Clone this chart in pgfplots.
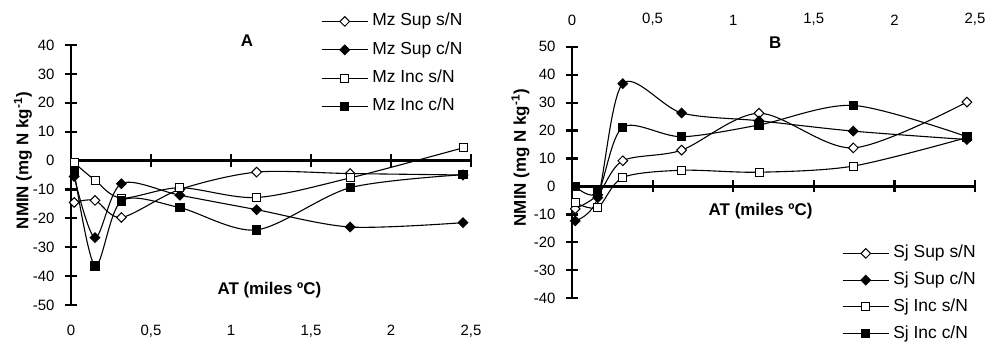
\documentclass[border=0pt]{standalone}
\usepackage{pgfplots}
\pgfplotsset{compat=1.18}
\usepackage{fontspec}
\setmainfont{Liberation Sans}

\pgfplotsset{
  base/.style={
    scale only axis, clip=false,
    xmin=0, xmax=2.5,
    axis line style={draw=none},
    xtick={0,0.5,1,1.5,2,2.5},
    xticklabels={0,{0,5},1,{1,5},2,{2,5}},
    xtick style={draw=none}, ytick style={draw=none},
    tick label style={font=\fontsize{15}{17}\selectfont},
    yticklabel style={xshift=-13bp},
    legend cell align=left,
    legend image code/.code={\draw[mark repeat=2,mark phase=2,##1] plot coordinates {(0bp,0bp) (23bp,0bp) (46bp,0bp)};},
    legend style={draw=none, fill=none, inner sep=0pt, font=\fontsize{17.5}{19}\selectfont,
      nodes={inner sep=1bp, text height=12bp, text depth=3bp},
      /tikz/every odd column/.style={column sep=3bp}},
  },
  ser/.style={black, line width=1.1bp, smooth, tension=0.5},
  odia/.style={ser, mark=square*, mark size=3.4bp, mark options={rotate=45, fill=white, line width=1bp}},
  fdia/.style={ser, mark=square*, mark size=3.4bp, mark options={rotate=45, fill=black, line width=1bp}},
  osq/.style={ser, mark=square*, mark size=4bp, mark options={fill=white, line width=1bp}},
  fsq/.style={ser, mark=square*, mark size=4.2bp, mark options={fill=black, line width=1bp}},
  frameline/.style={black, line width=2.4bp, forget plot},
  tickline/.style={black, line width=2.2bp, forget plot},
}

\begin{document}
\begin{tikzpicture}
\path[use as bounding box] (0,0) rectangle (990bp,345bp);

% ---------------- Panel A ----------------
\begin{axis}[base,
  at={(71bp,40bp)}, anchor=south west, width=400bp, height=260bp,
  ymin=-50, ymax=40,
  ytick={-50,-40,-30,-20,-10,0,10,20,30,40},
  yticklabels={-50,-40,-30,-20,-10,0,10,20,30,40},
  xticklabel style={yshift=-17bp},
  legend style={at={(0.625,1.124)}, anchor=north west, row sep=11.3bp},
]
% axis frame: y axis, zero line and their ticks
\addplot[frameline] coordinates {(0,-50) (0,40)};
\addplot[frameline] coordinates {(0,0) (2.5,0)};
\addplot[tickline] coordinates {(-0.0375,-50) (0.0375,-50)};
\addplot[tickline] coordinates {(-0.0375,-40) (0.0375,-40)};
\addplot[tickline] coordinates {(-0.0375,-30) (0.0375,-30)};
\addplot[tickline] coordinates {(-0.0375,-20) (0.0375,-20)};
\addplot[tickline] coordinates {(-0.0375,-10) (0.0375,-10)};
\addplot[tickline] coordinates {(-0.0375,10) (0.0375,10)};
\addplot[tickline] coordinates {(-0.0375,20) (0.0375,20)};
\addplot[tickline] coordinates {(-0.0375,30) (0.0375,30)};
\addplot[tickline] coordinates {(-0.0375,40) (0.0375,40)};
\addplot[tickline] coordinates {(0.5,-2.1) (0.5,2.1)};
\addplot[tickline] coordinates {(1,-2.1) (1,2.1)};
\addplot[tickline] coordinates {(1.5,-2.1) (1.5,2.1)};
\addplot[tickline] coordinates {(2,-2.1) (2,2.1)};
\addplot[tickline] coordinates {(2.5,-2.1) (2.5,2.1)};
% data
\addplot[odia] coordinates {(0.02,-14.5) (0.15,-13.8) (0.315,-19.7) (0.68,-10) (1.16,-4) (1.745,-4.5) (2.45,-5)};
\addplot[fdia] coordinates {(0.02,-5.5) (0.15,-26.7) (0.315,-8) (0.68,-12) (1.16,-17) (1.745,-23) (2.45,-21.5)};
\addplot[osq] coordinates {(0.02,-0.8) (0.15,-6.8) (0.315,-13) (0.68,-9.4) (1.16,-12.8) (1.745,-6) (2.45,4.4)};
\addplot[fsq] coordinates {(0.02,-4) (0.15,-36.5) (0.315,-14) (0.68,-16.3) (1.16,-24) (1.745,-9.4) (2.45,-4.9)};
\legend{Mz Sup s/N, Mz Sup c/N, Mz Inc s/N, Mz Inc c/N}
\node[font=\bfseries\fontsize{17}{19}\selectfont] at (axis cs:1.1,41.5) {A};
\node[font=\bfseries\fontsize{17}{19}\selectfont] at (axis cs:1.24,-45) {AT (miles ºC)};
\node[rotate=90, font=\bfseries\fontsize{17}{19}\selectfont] at (axis cs:-0.3,0) {NMIN (mg N kg\textsuperscript{-1})};
\end{axis}

% ---------------- Panel B ----------------
\begin{axis}[base,
  at={(572bp,46.7bp)}, anchor=south west, width=403bp, height=251.6bp,
  ymin=-40, ymax=50,
  ytick={-40,-30,-20,-10,0,10,20,30,40,50},
  yticklabels={-40,-30,-20,-10,0,10,20,30,40,50},
  xticklabel pos=upper,
  xticklabel style={yshift=17.5bp},
  legend style={at={(0.67,0.213)}, anchor=north west, row sep=9.7bp},
]
\addplot[frameline] coordinates {(0,-40) (0,50)};
\addplot[frameline] coordinates {(0,0) (2.5,0)};
\addplot[tickline] coordinates {(-0.0372,-40) (0.0372,-40)};
\addplot[tickline] coordinates {(-0.0372,-30) (0.0372,-30)};
\addplot[tickline] coordinates {(-0.0372,-20) (0.0372,-20)};
\addplot[tickline] coordinates {(-0.0372,-10) (0.0372,-10)};
\addplot[tickline] coordinates {(-0.0372,10) (0.0372,10)};
\addplot[tickline] coordinates {(-0.0372,20) (0.0372,20)};
\addplot[tickline] coordinates {(-0.0372,30) (0.0372,30)};
\addplot[tickline] coordinates {(-0.0372,40) (0.0372,40)};
\addplot[tickline] coordinates {(-0.0372,50) (0.0372,50)};
\addplot[tickline] coordinates {(0.5,-2.15) (0.5,2.15)};
\addplot[tickline] coordinates {(1,-2.15) (1,2.15)};
\addplot[tickline] coordinates {(1.5,-2.15) (1.5,2.15)};
\addplot[tickline] coordinates {(2,-2.15) (2,2.15)};
\addplot[tickline] coordinates {(2.5,-2.15) (2.5,2.15)};
\addplot[odia] coordinates {(0.02,-8) (0.16,-3) (0.315,9.2) (0.68,13) (1.16,26.2) (1.745,13.8) (2.45,30.2)};
\addplot[fdia] coordinates {(0.02,-12.3) (0.16,-4) (0.315,36.8) (0.68,26.3) (1.16,23.5) (1.745,19.8) (2.45,16.8)};
\addplot[osq] coordinates {(0.02,-5.8) (0.16,-7.5) (0.315,3.2) (0.68,5.8) (1.16,5.1) (1.745,7.3) (2.45,17.5)};
\addplot[fsq] coordinates {(0.02,0) (0.16,-2.2) (0.315,21.2) (0.68,17.8) (1.16,22) (1.745,29) (2.45,17.8)};
\legend{Sj Sup s/N, Sj Sup c/N, Sj Inc s/N, Sj Inc c/N}
\node[font=\bfseries\fontsize{17}{19}\selectfont] at (axis cs:1.26,51.5) {B};
\node[font=\bfseries\fontsize{17}{19}\selectfont] at (axis cs:1.17,-8.7) {AT (miles ºC)};
\node[rotate=90, font=\bfseries\fontsize{17}{19}\selectfont] at (axis cs:-0.32,10.3) {NMIN (mg N kg\textsuperscript{-1})};
\end{axis}
\end{tikzpicture}
\end{document}
